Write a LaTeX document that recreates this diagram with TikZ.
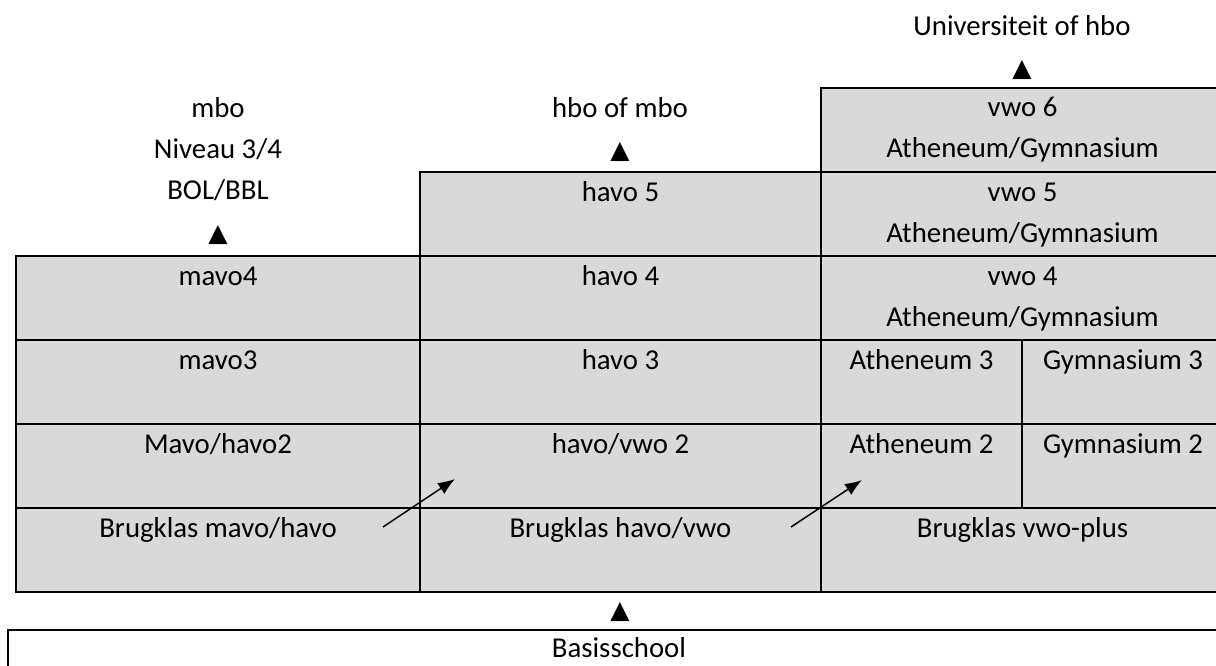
\documentclass[tikz,border=0pt]{standalone}
\usepackage{fontspec}
\setmainfont{Carlito}
\newfontfamily\symfont{DejaVu Sans}
\usetikzlibrary{arrows.meta}
\definecolor{cellgray}{HTML}{D9D9D9}

\tikzset{
	cell/.style={draw,fill=cellgray,line width=2.2pt,anchor=north west,inner sep=0pt,outer sep=0pt,
		minimum height=84pt,minimum width=#1},
	celltext/.style={anchor=base,yshift=-29pt,align=center,inner sep=0pt},
	txt/.style={anchor=base,align=center,inner sep=0pt},
	tri/.style={anchor=base,inner sep=0pt,font=\fontsize{25}{25}\symfont},
	pijl/.style={-{Latex[length=17pt,width=13pt]},line width=1.5pt},
}

\begin{document}
\begin{tikzpicture}[x=1pt,y=-1pt,font=\fontsize{28.8}{41}\selectfont]
	\useasboundingbox (0,0) rectangle (1216,666);
	\clip (0,0) rectangle (1216,666);
	% vwo
	\foreach \n/\y in {6/88,5/172,4/256}
		\node[cell=403pt,label={[celltext,yshift=-41pt]north:vwo \n\\Atheneum/Gymnasium}] (vwo\n) at (821,\y) {};
	\foreach \n/\y in {3/340,2/424} {
		\node[cell=201pt,label={[celltext]north:Atheneum \n}] (ath\n) at (821,\y) {};
		\node[cell=202pt,label={[celltext]north:Gymnasium \n}] (gym\n) at (1022,\y) {};
	}
	% havo
	\foreach \n/\y in {5/172,4/256,3/340}
		\node[cell=401pt,label={[celltext]north:havo \n}] (havo\n) at (420,\y) {};
	\node[cell=401pt,label={[celltext]north:havo/vwo 2}] (havovwo2) at (420,424) {};
	% mavo
	\foreach \n/\y in {4/256,3/340}
		\node[cell=404pt,label={[celltext]north:mavo\n}] (mavo\n) at (16,\y) {};
	\node[cell=404pt,label={[celltext]north:Mavo/havo2}] (mavohavo2) at (16,424) {};
	% brugklassen
	\node[cell=404pt,label={[celltext]north:Brugklas mavo/havo}] (brugmh) at (16,508) {};
	\node[cell=401pt,label={[celltext]north:Brugklas havo/vwo}] (brughv) at (420,508) {};
	\node[cell=403pt,label={[celltext]north:Brugklas vwo-plus}] (brugvp) at (821,508) {};
	\node[draw,line width=2.2pt,anchor=north west,inner sep=0pt,outer sep=0pt,minimum width=1222pt,
		minimum height=60pt,label={[celltext,yshift=2pt]north:Basisschool}] (basis) at (8,630) {};
	% vervolg
	\node[txt] (univ) at (1022,36) {Universiteit of hbo};
	\node[tri] (tri-univ) at (1022,77) {▲};
	\node[txt] (mbo) at (218,200) {mbo\\Niveau 3/4\\BOL/BBL};
	\node[tri] (tri-mbo) at (218,241) {▲};
	\node[txt] (hbo) at (620,118) {hbo of mbo};
	\node[tri] (tri-hbo) at (620,159) {▲};
	\node[tri] (tri-basis) at (620,618) {▲};
	% overstap
	\coordinate (p1) at (383,527);
	\coordinate (q1) at (455,479);
	\coordinate (p2) at (791,527);
	\coordinate (q2) at (862,480);
	\draw[pijl] (p1) -- (q1);
	\draw[pijl] (p2) -- (q2);
\end{tikzpicture}
\end{document}
